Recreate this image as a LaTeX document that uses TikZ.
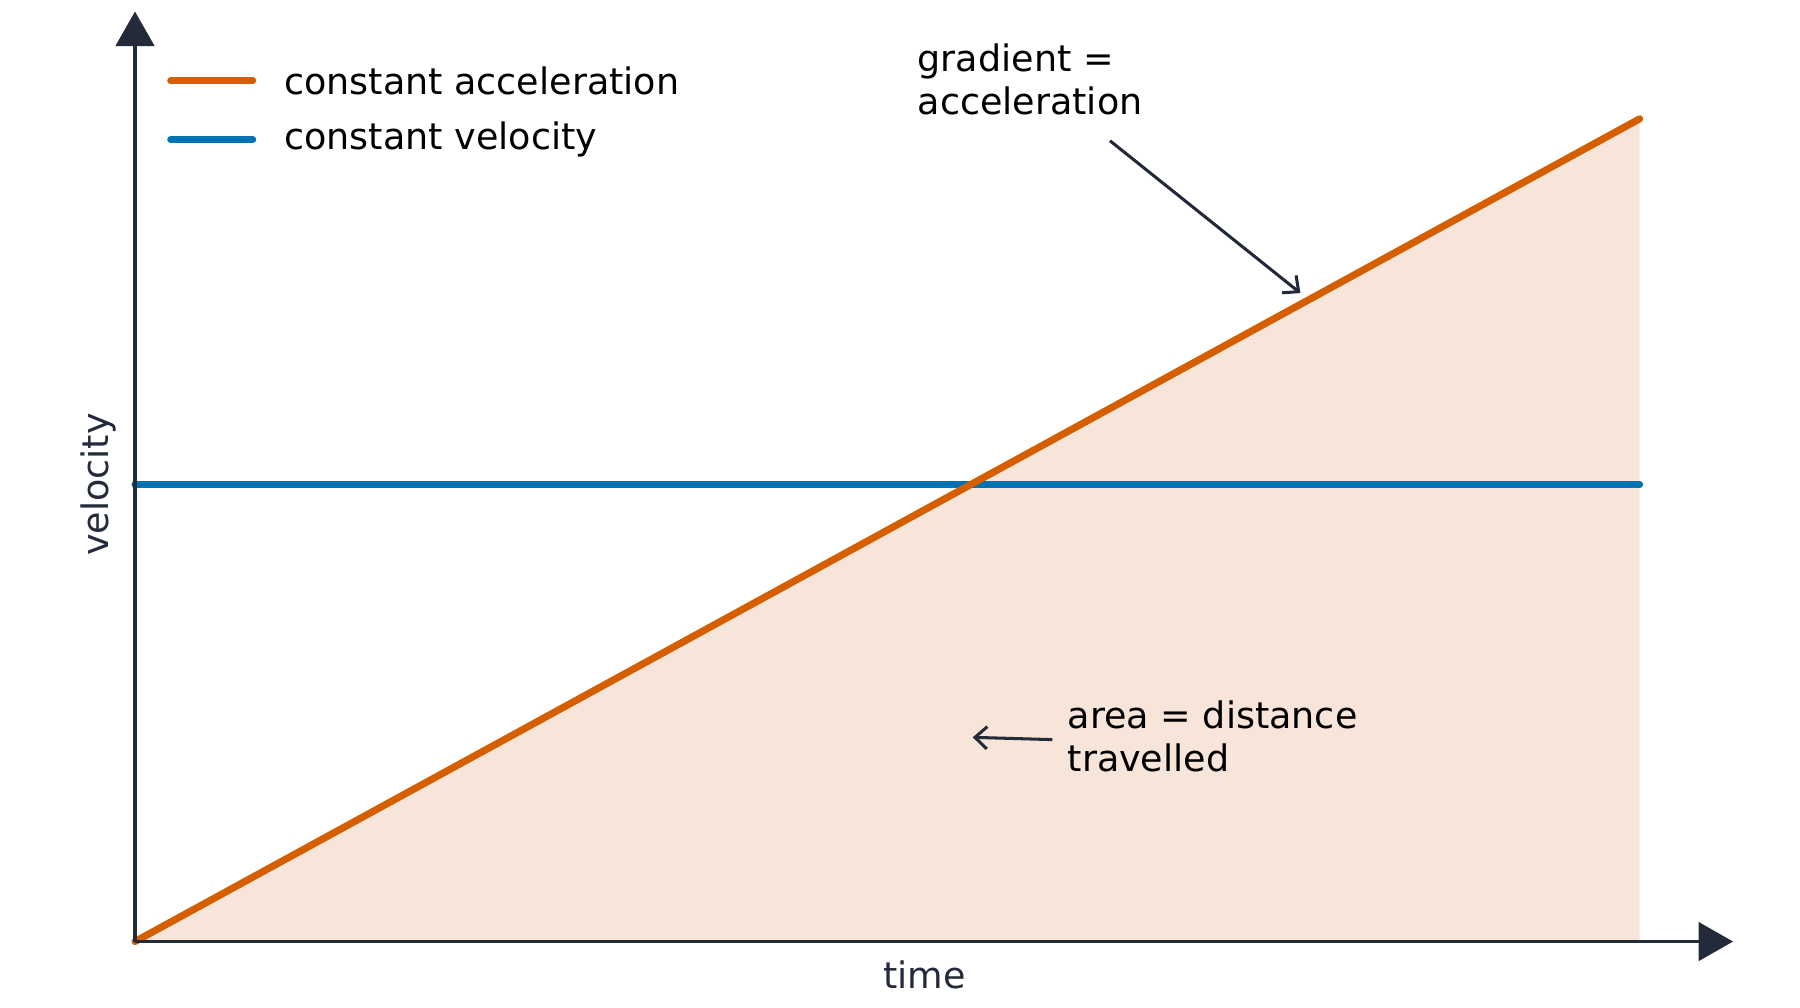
\documentclass[tikz,border=0pt]{standalone}
\usepackage{fontspec}
\setmainfont{DejaVu Sans}
\usetikzlibrary{arrows.meta}
\definecolor{axisc}{HTML}{232B3A}
\definecolor{accc}{HTML}{D55E00}
\definecolor{velc}{HTML}{0072B2}
\definecolor{areac}{HTML}{F7E5D9}
\tikzset{
  axis/.style={draw=axisc, line width=1.5pt, -{Triangle[length=17pt,width=19pt]}},
  curve/.style={line width=3.5pt, line cap=round},
  note/.style={draw=axisc, line width=1.5pt, -{Straight Barb[length=6pt,width=11pt]}},
  lbl/.style={font=\fontsize{18}{21}\selectfont, align=left, inner sep=0pt}
}
\begin{document}
\begin{tikzpicture}[x=0.02cm, y=-0.02cm]
  \useasboundingbox (0,0) rectangle (1560,873);
  % points of the plot
  \coordinate (o) at (117,816);
  \coordinate (top) at (1421,103);
  \coordinate (foot) at (1421,816);
  \coordinate (ytip) at (117,10);
  \coordinate (xtip) at (1502,816);
  \coordinate (v0) at (117,420);
  \coordinate (v1) at (1421,420);

  \fill[areac] (o) -- (top) -- (foot) -- cycle;
  \draw[curve, velc] (v0) -- (v1);
  \draw[curve, accc] (o) -- (top);
  \draw[axis] (o) -- (ytip);
  \draw[axis] (o) -- (xtip);

  \node[lbl, text=axisc, rotate=90] (vel) at (85,420) {velocity};
  \node[lbl, text=axisc] (time) at (801,845) {time};

  % legend
  \draw[curve, accc] (148,70) coordinate (la) -- (219,70);
  \draw[curve, velc] (148,121) coordinate (lb) -- (219,121);
  \node[lbl, anchor=west] (lacc) at (246,70) {constant acceleration};
  \node[lbl, anchor=west] (lvel) at (246,121) {constant velocity};

  % notes
  \node[lbl, anchor=north west] (grad) at (795,38) {gradient =\\acceleration};
  \coordinate (g0) at (962,122);
  \coordinate (g1) at (1127,254);
  \draw[note] (g0) -- (g1);
  \node[lbl, anchor=north west] (area) at (925,607) {area = distance\\travelled};
  \coordinate (a0) at (912,641);
  \coordinate (a1) at (843,639);
  \draw[note] (a0) -- (a1);
\end{tikzpicture}
\end{document}
